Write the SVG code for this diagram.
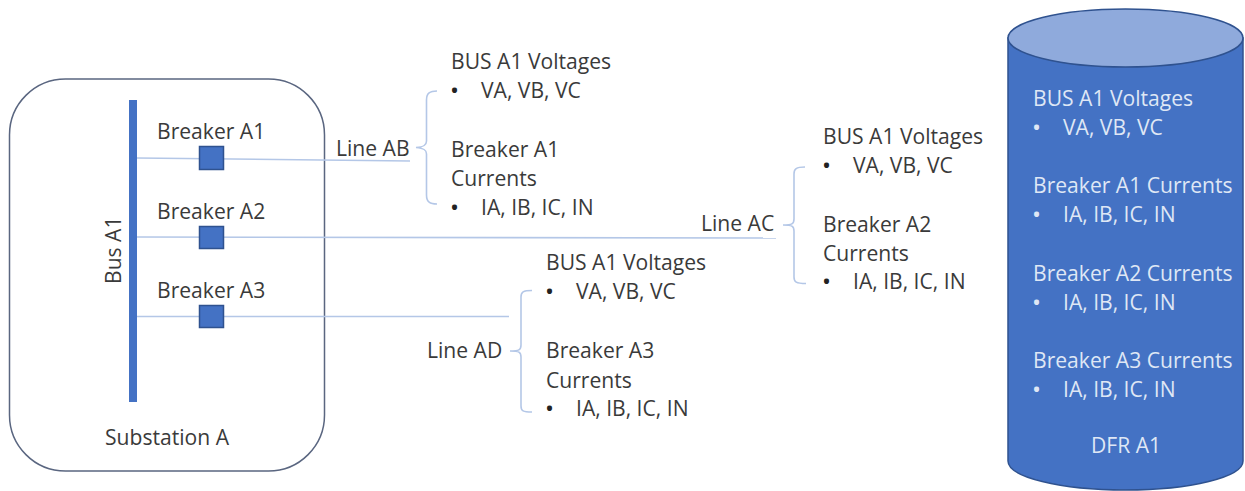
<svg xmlns="http://www.w3.org/2000/svg" width="1245" height="491" viewBox="0 0 1245 491">
<style>
text{font-family:"Open Sans","Noto Sans","Liberation Sans",sans-serif;font-size:21.100px;fill:#3a3a3a}
.w{fill:#dfe7f5}
.d{font-size:24px;fill:#222}
.dw{font-size:24px;fill:#dfe7f5}
.l{stroke:#b4c7e7;stroke-width:1.600;fill:none}
.b{fill:#4472c4;stroke:#2f528f;stroke-width:1.500}
</style>
<rect width="1245" height="491" fill="#fff"/>
<g id="substation-a">
<rect x="9.500" y="79" width="315" height="392" rx="56" ry="56" fill="#fff" stroke="#5a6680" stroke-width="1.500"/>
<text x="105" y="445">Substation A</text>
</g>
<g id="connectors">
<path class="l" d="M137 158L410 161"/>
<path class="l" d="M137 237L776 238"/>
<path class="l" d="M137 316.500H509"/>
<path class="l" d="M437 91C430 91 426.500 93 426.500 100V141C426.500 145 424 147 416 147.500C424 148 426.500 150 426.500 154V195C426.500 202 430 204 437 204"/>
<path class="l" d="M805 167C796 167 794 169 794 174V219C794 224 792 225 783 225C792 225 794 226 794 231V277C794 282 796 283.500 806 283.500"/>
<path class="l" d="M532 290.500C523 290.500 521 292 521 297V345C521 350 519 351 510 351C519 351 521 352 521 357V406C521 411 523 412 532 412"/>
</g>
<g id="bus-a1">
<rect x="129" y="100" width="8" height="302" fill="#4472c4"/>
<text transform="translate(121 284) rotate(-90)">Bus A1</text>
</g>
<g id="breaker-a1"><rect class="b" x="199.500" y="146.500" width="24" height="23"/><text x="157" y="139">Breaker A1</text></g>
<g id="breaker-a2"><rect class="b" x="199.500" y="226.500" width="24" height="22"/><text x="157" y="219">Breaker A2</text></g>
<g id="breaker-a3"><rect class="b" x="199.500" y="305.500" width="24" height="22"/><text x="157" y="298">Breaker A3</text></g>
<g id="line-ab">
<text x="336" y="156">Line AB</text>
<text x="451" y="69">BUS A1 Voltages</text>
<text class="d" x="450" y="99">•</text><text x="481" y="98">VA, VB, VC</text>
<text x="451" y="157">Breaker A1</text>
<text x="451" y="186">Currents</text>
<text class="d" x="450" y="216">•</text><text x="481" y="215">IA, IB, IC, IN</text>
</g>
<g id="line-ac">
<text x="701" y="231">Line AC</text>
<text x="823" y="144">BUS A1 Voltages</text>
<text class="d" x="822" y="174">•</text><text x="853" y="173">VA, VB, VC</text>
<text x="823" y="232">Breaker A2</text>
<text x="823" y="261">Currents</text>
<text class="d" x="822" y="290">•</text><text x="853" y="289">IA, IB, IC, IN</text>
</g>
<g id="line-ad">
<text x="427" y="358">Line AD</text>
<text x="546" y="270">BUS A1 Voltages</text>
<text class="d" x="545" y="300">•</text><text x="576" y="299">VA, VB, VC</text>
<text x="546" y="358">Breaker A3</text>
<text x="546" y="388">Currents</text>
<text class="d" x="545" y="417">•</text><text x="576" y="416">IA, IB, IC, IN</text>
</g>
<g id="dfr-a1">
<path d="M1008 38V461C1008 477 1060 490 1125.500 490S1243 477 1243 461V38Z" fill="#4472c4" stroke="#2f528f" stroke-width="1.500"/>
<ellipse cx="1125.500" cy="38" rx="117.500" ry="29" fill="#8faadc" stroke="#2f528f" stroke-width="1.500"/>
<text class="w" x="1033" y="106">BUS A1 Voltages</text>
<text class="dw" x="1032" y="136">•</text><text class="w" x="1063" y="135">VA, VB, VC</text>
<text class="w" x="1033" y="193">Breaker A1 Currents</text>
<text class="dw" x="1032" y="223">•</text><text class="w" x="1063" y="222">IA, IB, IC, IN</text>
<text class="w" x="1033" y="281">Breaker A2 Currents</text>
<text class="dw" x="1032" y="311">•</text><text class="w" x="1063" y="310">IA, IB, IC, IN</text>
<text class="w" x="1033" y="368">Breaker A3 Currents</text>
<text class="dw" x="1032" y="398">•</text><text class="w" x="1063" y="397">IA, IB, IC, IN</text>
<text class="w" x="1091" y="453">DFR A1</text>
</g>
</svg>
